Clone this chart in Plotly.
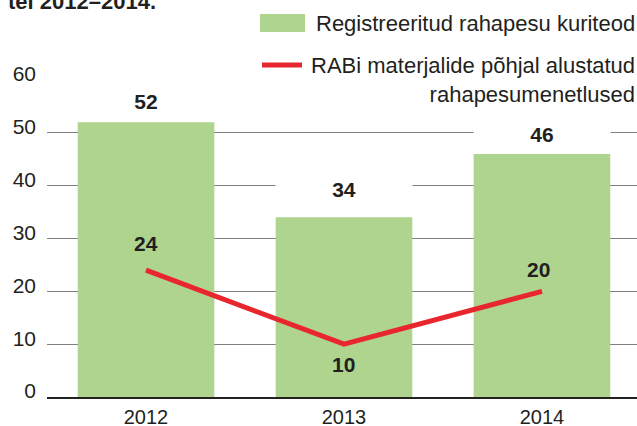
import plotly.graph_objects as go

# ---- data ----
years = ["2012", "2013", "2014"]
crimes = [52, 34, 46]
proceedings = [24, 10, 20]
y_ticks = [0, 10, 20, 30, 40, 50, 60]
name_bars = "Registreeritud rahapesu kuriteod"
name_line = "RABi materjalide põhjal alustatud<br>rahapesumenetlused"
title_text = "tel 2012–2014."

# ---- style ----
W, H = 637, 426
ML, MR, MT, MB = 47, 0, 80, 29
PW, PH = W - ML - MR, H - MT - MB
FONT = "Liberation Sans, Arial, Helvetica, sans-serif"
TXT = "#231f20"
GREEN = "#aed48e"
RED = "#e8262e"
GRID = "#808080"


def px(x):
    return (x - ML) / PW


def py(y):
    return (H - MB - y) / PH


fig = go.Figure()
fig.add_trace(go.Bar(x=years, y=crimes, width=0.69, marker=dict(color=GREEN, line=dict(width=0)),
                     name=name_bars, showlegend=False, hoverinfo="skip"))
fig.add_trace(go.Scatter(x=years, y=proceedings, mode="lines", line=dict(color=RED, width=5),
                         name=name_line, showlegend=False, hoverinfo="skip"))

ann = []
bar_shift = [21, 28, 20]
for i, (v, s) in enumerate(zip(crimes, bar_shift)):
    ann.append(dict(x=i, y=v, xref="x", yref="y", text=f"<b>{v}</b>", showarrow=False,
                    yshift=s, bgcolor="white", width=134, height=24,
                    font=dict(family=FONT, size=21, color=TXT)))
line_shift = [(0, 27), (0, -20), (-3, 22)]
for i, (v, (sx, sy)) in enumerate(zip(proceedings, line_shift)):
    ann.append(dict(x=i, y=v, xref="x", yref="y", text=f"<b>{v}</b>", showarrow=False,
                    xshift=sx, yshift=sy, font=dict(family=FONT, size=21, color=TXT)))

# legend (manual)
ann.append(dict(x=1, y=py(23), xref="paper", yref="paper", xanchor="right", yanchor="middle",
                text=name_bars, showarrow=False, font=dict(family=FONT, size=22, color=TXT)))
ann.append(dict(x=1, y=py(80), xref="paper", yref="paper", xanchor="right", yanchor="middle",
                text=name_line, align="right", showarrow=False,
                font=dict(family=FONT, size=22, color=TXT)))
# cut-off title
ann.append(dict(x=px(6), y=py(16), xref="paper", yref="paper", xanchor="left", yanchor="bottom",
                text=f"<b>{title_text}</b>", showarrow=False,
                font=dict(family=FONT, size=22, color=TXT)))

shapes = [
    dict(type="rect", xref="paper", yref="paper", x0=px(256), x1=px(640), y0=py(108), y1=py(0),
         fillcolor="white", line=dict(width=0), layer="above"),
    dict(type="rect", xref="paper", yref="paper", x0=px(260), x1=px(305), y0=py(32), y1=py(14),
         fillcolor=GREEN, line=dict(width=0), layer="above"),
    dict(type="line", xref="paper", yref="paper", x0=px(262), x1=px(302), y0=py(65), y1=py(65),
         line=dict(color=RED, width=5), layer="above"),
]

fig.update_layout(
    width=W, height=H,
    margin=dict(l=ML, r=MR, t=MT, b=MB),
    paper_bgcolor="white", plot_bgcolor="white",
    font=dict(family=FONT, size=21, color=TXT),
    annotations=ann, shapes=shapes,
    hovermode=False,
    xaxis=dict(type="category", range=[-0.5, 2.48], showgrid=False, showline=True,
               linecolor="#222", linewidth=1.5, ticks="", automargin=False,
               ticklabelstandoff=1, tickfont=dict(size=20, color=TXT)),
    yaxis=dict(range=[0, 60], tickvals=y_ticks, showgrid=True, gridcolor=GRID, gridwidth=1.2,
               zeroline=False, showline=False, ticks="", automargin=False,
               ticklabelstandoff=10, ticklabelshift=-6,
               tickfont=dict(size=21, color=TXT)),
    bargap=0.3,
)

fig.write_html("out.html", config={"displayModeBar": False},
               post_script="document.body.style.margin='0px';")
